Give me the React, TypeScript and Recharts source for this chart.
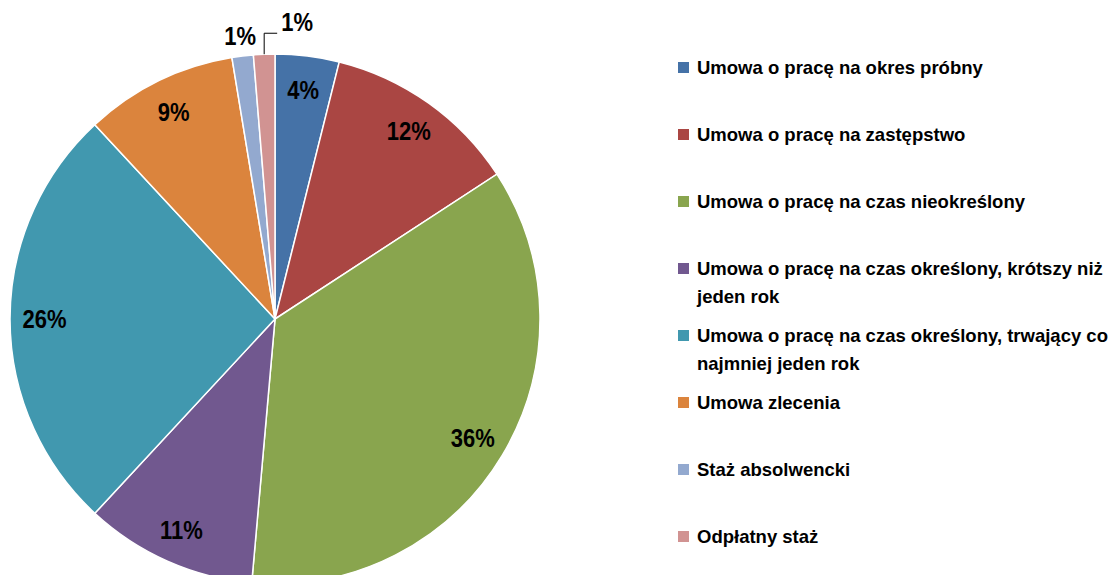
import React from "react";
import { PieChart, Pie, Cell, Legend } from "recharts";

const categories = [
  "Umowa o pracę na okres próbny",
  "Umowa o pracę na zastępstwo",
  "Umowa o pracę na czas nieokreślony",
  "Umowa o pracę na czas określony, krótszy niż jeden rok",
  "Umowa o pracę na czas określony, trwający co najmniej jeden rok",
  "Umowa zlecenia",
  "Staż absolwencki",
  "Odpłatny staż",
];
const values = [3.9, 11.9, 35.6, 10.5, 26.2, 9.3, 1.3, 1.3];
const percentLabels = ["4%", "12%", "36%", "11%", "26%", "9%", "1%", "1%"];
const colors = ["#4572A7", "#AA4643", "#89A54E", "#71588F", "#4198AF", "#DB843D", "#93A9CF", "#D19392"];

const data = categories.map((name, i) => ({ name, value: values[i], label: percentLabels[i] }));

const FONT = "'Liberation Sans', Arial, sans-serif";
const RAD = Math.PI / 180;

const LabelText = ({ x, y, anchor, text }: { x: number; y: number; anchor: string; text: string }) => (
  <text
    transform={`translate(${x},${y}) scale(1,1.2)`}
    x={0}
    y={0}
    textAnchor={anchor as any}
    dominantBaseline="central"
    fontFamily={FONT}
    fontWeight="bold"
    fontSize={22}
    fill="#000"
  >
    {text}
  </text>
);

const renderLabel = (props: any) => {
  const { cx, cy, midAngle, outerRadius, index } = props;
  const text = percentLabels[index];
  const cos = Math.cos(-midAngle * RAD);
  const sin = Math.sin(-midAngle * RAD);
  if (index === 6) {
    const r = outerRadius + 20;
    return <LabelText x={cx + r * cos} y={cy + r * sin} anchor="middle" text={text} />;
  }
  if (index === 7) {
    const x0 = cx + outerRadius * cos;
    const y0 = cy + outerRadius * sin;
    const r1 = outerRadius + 21;
    const y1 = cy + r1 * sin;
    return (
      <g>
        <path d={`M${x0},${y0} L${x0},${y1} L${x0 + 13},${y1}`} stroke="#000" strokeWidth={1} fill="none" />
        <LabelText x={x0 + 17} y={y1 - 11} anchor="start" text={text} />
      </g>
    );
  }
  const r = outerRadius * 0.87;
  return <LabelText x={cx + r * cos} y={cy + r * sin} anchor="middle" text={text} />;
};

const renderLegend = () => (
  <div style={{ fontFamily: FONT, fontWeight: "bold", fontSize: 18.5, color: "#000" }}>
    {categories.map((name, i) => (
      <div key={name} style={{ height: 67, display: "flex", alignItems: "flex-start" }}>
        <div style={{ width: 11, height: 11, background: colors[i], marginTop: 8, marginRight: 8, flexShrink: 0 }} />
        <div style={{ lineHeight: "28px", width: 420, flexShrink: 0 }}>{name}</div>
      </div>
    ))}
  </div>
);

export default function App() {
  return (
    <div style={{ position: "absolute", left: 0, top: 0, width: 1112, height: 575, overflow: "hidden", background: "#fff" }}>
      <PieChart width={1112} height={575} margin={{ top: 0, right: 0, bottom: 0, left: 0 }}>
        <Pie
          data={data}
          dataKey="value"
          nameKey="name"
          cx={275}
          cy={319}
          outerRadius={265}
          startAngle={90}
          endAngle={-270}
          stroke="#fff"
          strokeWidth={1.5}
          label={renderLabel}
          labelLine={false}
          isAnimationActive={false}
        >
          {data.map((d, i) => (
            <Cell key={d.name} fill={colors[i]} />
          ))}
        </Pie>
        <Legend
          layout="vertical"
          align="right"
          verticalAlign="top"
          content={renderLegend}
          wrapperStyle={{ left: 678, top: 54, width: 450 }}
        />
      </PieChart>
    </div>
  );
}
